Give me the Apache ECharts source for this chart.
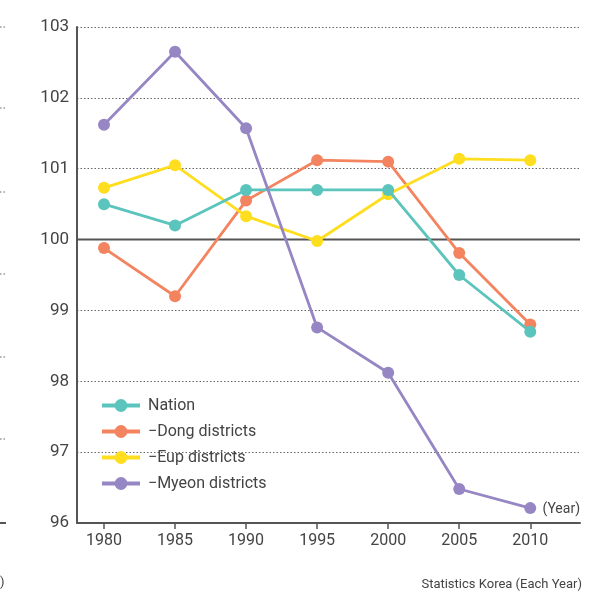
<!DOCTYPE html>
<html><head><meta charset="utf-8">
<script src="https://cdn.jsdelivr.net/npm/echarts@6/dist/echarts.min.js"></script>
<style>html,body{margin:0;padding:0;background:#fff}#c{width:610px;height:597px}</style>
</head><body><div id="c"></div>
<script>
const years = [1980, 1985, 1990, 1995, 2000, 2005, 2010];
const nation = [100.5, 100.2, 100.7, 100.7, 100.7, 99.5, 98.7];
const dong = [99.88, 99.2, 100.55, 101.12, 101.1, 99.81, 98.8];
const eup = [100.73, 101.05, 100.33, 99.98, 100.64, 101.14, 101.12];
const myeon = [101.62, 102.65, 101.57, 98.76, 98.12, 96.48, 96.21];
const seriesNames = ['Nation', '\u2212Dong districts', '\u2212Eup districts', '\u2212Myeon districts'];
const colors = ['#5BC5BD', '#F3845F', '#FFDD1F', '#9686C3'];
const FONT = "'Roboto', sans-serif";

const chart = echarts.init(document.getElementById('c'));
const pair = arr => years.map((y, i) => [y, arr[i]]);
const datasets = [nation, dong, eup, myeon];
chart.setOption({
  animation: false,
  textStyle: { fontFamily: FONT },
  grid: { left: 77, right: 30, top: 27, bottom: 74 },
  legend: {
    orient: 'vertical', left: 100, top: 397.5, itemGap: 10, padding: 0,
    itemWidth: 38, itemHeight: 16,
    lineStyle: { width: 4 },
    textStyle: { fontFamily: FONT, fontSize: 16, color: '#444', padding: [0, 0, 0, 3] },
    data: seriesNames
  },
  xAxis: {
    type: 'value', min: 1978.1, max: 2013.5,
    axisLine: { show: true, lineStyle: { color: '#555', width: 2 } },
    axisTick: { show: true, customValues: years, length: 6, lineStyle: { color: '#555', width: 1.5 } },
    axisLabel: { customValues: years, formatter: v => String(v), fontFamily: FONT, fontSize: 16, color: '#444', margin: 10 },
    splitLine: { show: false }
  },
  yAxis: {
    type: 'value', min: 96, max: 103, interval: 1,
    axisLine: { show: true, lineStyle: { color: '#555', width: 2 } },
    axisTick: { show: false },
    axisLabel: { fontFamily: FONT, fontSize: 17, color: '#444', margin: 8 },
    splitLine: { show: true, lineStyle: { type: [1.5, 2], color: '#666', width: 1 } }
  },
  graphic: [
    { type: 'text', right: 30, top: 502, style: { text: '(Year)', font: "14px " + FONT, fill: '#444' } },
    { type: 'text', right: 28, top: 578, style: { text: 'Statistics Korea (Each Year)', font: "13px " + FONT, fill: '#444' } },
    { type: 'text', left: 0, top: 576, style: { text: ')', font: "13px " + FONT, fill: '#444' } },
    ...[27, 108, 192, 274, 357, 439].map(y => ({ type: 'line', shape: { x1: 0, y1: y, x2: 5, y2: y }, style: { stroke: '#666', lineWidth: 1, lineDash: [1.5, 2] } })),
    { type: 'line', shape: { x1: 0, y1: 523, x2: 6, y2: 523 }, style: { stroke: '#555', lineWidth: 2 } }
  ],
  series: [
    {
      type: 'line', name: 'ref', data: [[1978.1, 100], [2013.5, 100]], symbol: 'none', silent: true,
      lineStyle: { color: '#555', width: 2 }, z: 1, legendHoverLink: false
    },
    ...datasets.map((d, i) => ({
      type: 'line', name: seriesNames[i], data: pair(d),
      symbol: 'circle', symbolSize: 12,
      itemStyle: { color: colors[i] },
      lineStyle: { color: colors[i], width: 2.8 }, z: 2 + (i === 0 ? 3 : i)
    }))
  ]
});
</script></body></html>
